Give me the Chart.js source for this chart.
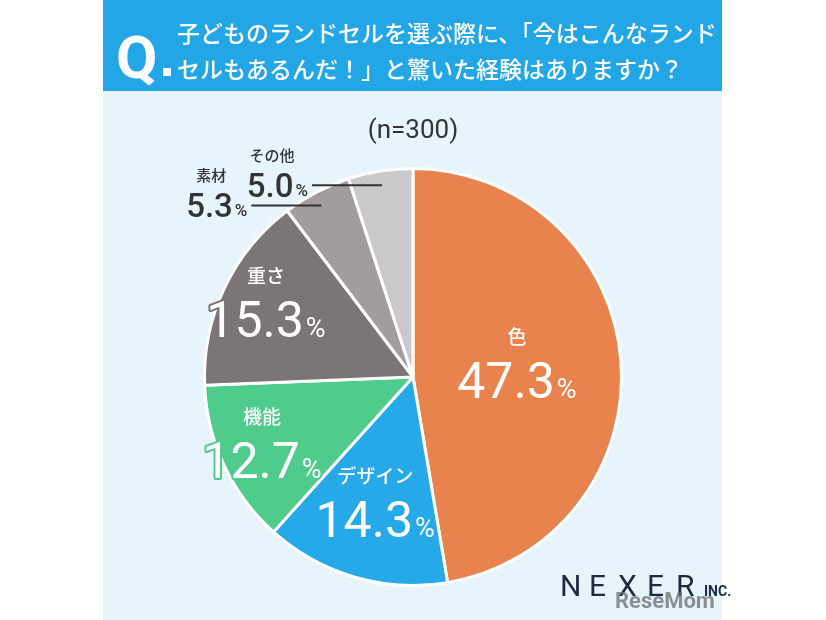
<!DOCTYPE html>
<html><head><meta charset="utf-8">
<script src="https://cdn.jsdelivr.net/npm/chart.js@4.4.0/dist/chart.umd.min.js"></script>
<style>html,body{margin:0;padding:0;background:#fff;}#wrap{width:826px;height:620px;}</style>
</head><body>
<div id="wrap"><canvas id="pieChart" width="826" height="620"></canvas></div>
<script>
const categories = ['色', 'デザイン', '機能', '重さ', '素材', 'その他'];
const values = [47.3, 14.3, 12.7, 15.3, 5.3, 5.0];
const colors = ['#e8834e', '#25a9e8', '#4fcb8b', '#7b7575', '#a19d9d', '#cbc8c9'];
const outside = [false, false, false, false, true, true];
const FONT = '"Noto Sans CJK JP", "Noto Sans", sans-serif';
const NUMFONT = 'Roboto, "Noto Sans", sans-serif';
// ラベル位置（半径に対する割合）
const labelRadius = [0.5, 0.65, 0.8, 0.78];

function outlined(c, text, x, y, color) {
    c.strokeStyle = color;
    c.lineWidth = 4;
    c.lineJoin = 'round';
    c.strokeText(text, x, y);
    c.fillText(text, x, y);
}

const decor = {
    id: 'decor',
    beforeDraw(chart) {
        const c = chart.ctx;
        c.save();
        c.fillStyle = '#ffffff';
        c.fillRect(0, 0, 826, 620);
        c.fillStyle = '#e7f4fb';
        c.fillRect(103, 0, 619, 620);
        c.fillStyle = '#22a6e6';
        c.fillRect(103, 0, 619, 91);
        c.fillStyle = '#fff';
        c.font = 'bold 60px ' + NUMFONT;
        c.fillText('Q', 116, 78);
        c.fillRect(163, 68, 8, 8);
        c.font = '500 23px ' + FONT;
        c.fillText('子どものランドセルを選ぶ際に、「今はこんなランド', 177, 42);
        c.fillText('セルもあるんだ！」と驚いた経験はありますか？', 177, 78);
        c.fillStyle = '#333';
        c.font = '26px ' + NUMFONT;
        c.textAlign = 'center';
        c.fillText('(n=300)', 413, 138);
        c.textAlign = 'left';
        c.fillStyle = '#1c2a44';
        c.font = '30px ' + NUMFONT;
        let x = 560;
        for (const ch of 'NEXER') { c.fillText(ch, x, 596); x += 29; }
        c.font = 'bold 14px ' + NUMFONT;
        c.fillText('INC.', 704, 596);
        c.fillStyle = 'rgba(110,110,110,0.75)';
        c.font = 'bold 22px ' + NUMFONT;
        c.fillText('ReseMom', 615, 608);
        c.restore();
    },
    afterDatasetsDraw(chart) {
        const c = chart.ctx;
        const arcs = chart.getDatasetMeta(0).data;
        c.save();
        arcs.forEach((arc, i) => {
            const p = arc.getProps(['x', 'y', 'startAngle', 'endAngle', 'outerRadius'], true);
            const mid = (p.startAngle + p.endAngle) / 2;
            const num = values[i].toFixed(1);
            if (outside[i]) {
                const ex = p.x + Math.cos(mid) * p.outerRadius * 0.95;
                const ey = p.y + Math.sin(mid) * p.outerRadius * 0.95 + 4;
                const sx = ex - 70;
                c.strokeStyle = '#333';
                c.lineWidth = 2;
                c.beginPath(); c.moveTo(ex, ey); c.lineTo(sx, ey); c.stroke();
                c.fillStyle = '#333';
                c.textAlign = 'right';
                c.font = '500 17px ' + NUMFONT;
                c.fillText('%', sx - 4, ey + 11);
                const pw = c.measureText('%').width;
                c.font = '500 33px ' + NUMFONT;
                c.fillText(num, sx - 6 - pw, ey + 12);
                c.font = '500 15px ' + FONT;
                c.textAlign = 'center';
                c.fillText(categories[i], sx - 40, ey - 24);
            } else {
                const r = p.outerRadius * labelRadius[i];
                const cx = p.x + Math.cos(mid) * r;
                const cy = p.y + Math.sin(mid) * r;
                c.fillStyle = '#fff';
                c.textAlign = 'center';
                c.font = '500 19px ' + FONT;
                c.fillText(categories[i], cx, cy - 24);
                c.font = '50px ' + NUMFONT;
                const nw = c.measureText(num).width;
                c.font = '27px ' + NUMFONT;
                const pw = c.measureText('%').width;
                const left = cx - (nw + pw + 2) / 2;
                c.textAlign = 'left';
                c.font = '50px ' + NUMFONT;
                outlined(c, num, left, cy + 30, colors[i]);
                c.font = '27px ' + NUMFONT;
                outlined(c, '%', left + nw + 2, cy + 30, colors[i]);
            }
        });
        c.restore();
    }
};

new Chart(document.getElementById('pieChart').getContext('2d'), {
    type: 'pie',
    data: {
        labels: categories,
        datasets: [{
            data: values,
            backgroundColor: colors,
            borderColor: '#ffffff',
            borderWidth: 3
        }]
    },
    options: {
        responsive: false,
        animation: false,
        layout: { padding: { left: 203, right: 203, top: 167, bottom: 33 } },
        plugins: { legend: { display: false }, tooltip: { enabled: false } }
    },
    plugins: [decor]
});
</script>
</body></html>
